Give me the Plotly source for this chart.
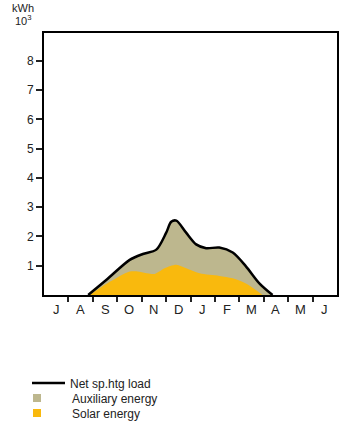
import plotly.graph_objects as go

months = ["J", "A", "S", "O", "N", "D", "J", "F", "M", "A", "M", "J"]
y_ticks = [1, 2, 3, 4, 5, 6, 7, 8]

# month position (0 = start of July), value in kWh x 10^3
load_x = [1.81, 2.56, 3.51, 4.05, 4.6, 5.0, 5.21, 5.42, 5.82, 6.23, 6.64, 7.18, 7.73, 8.27, 8.82, 9.36]
load_y = [0.0, 0.52, 1.2, 1.4, 1.55, 2.12, 2.5, 2.54, 2.13, 1.73, 1.6, 1.62, 1.45, 0.98, 0.4, 0.0]

solar_x = [1.87, 2.6, 3.51, 3.78, 4.53, 4.94, 5.42, 5.82, 6.37, 7.18, 7.73, 8.27, 8.95]
solar_y = [0.0, 0.4, 0.8, 0.81, 0.72, 0.91, 1.03, 0.91, 0.74, 0.65, 0.57, 0.39, 0.0]

AUX = "#bdb78e"
SOLAR = "#f9b90d"
FONT = "Liberation Sans, Arial, sans-serif"
TXT = "#222"

# plot area in pixels
L, T, W, H = 44, 33, 293, 262


def px(x):
    return (x - L) / W


def py(y):
    return (T + H - y) / H


fig = go.Figure()
fig.add_trace(go.Scatter(x=load_x, y=load_y, mode="lines", line=dict(width=0, shape="spline", smoothing=0.8),
                         fill="tozeroy", fillcolor=AUX, showlegend=False, hoverinfo="skip"))
fig.add_trace(go.Scatter(x=solar_x, y=solar_y, mode="lines", line=dict(width=0, shape="spline", smoothing=0.8),
                         fill="tozeroy", fillcolor=SOLAR, showlegend=False, hoverinfo="skip"))
fig.add_trace(go.Scatter(x=load_x, y=load_y, mode="lines", line=dict(color="black", width=2.5, shape="spline", smoothing=0.8),
                         name="Net sp.htg load", legend="legend"))
fig.add_trace(go.Scatter(x=[None], y=[None], mode="markers", marker=dict(symbol="square", size=8, color=AUX),
                         name="Auxiliary energy", legend="legend2"))
fig.add_trace(go.Scatter(x=[None], y=[None], mode="markers", marker=dict(symbol="square", size=8, color=SOLAR),
                         name="Solar energy", legend="legend3"))

for i, m in enumerate(months):
    fig.add_annotation(x=i + 0.5, y=0, xref="x", yref="paper", yanchor="middle", yshift=-14, text=m, showarrow=False,
                       font=dict(family=FONT, size=13, color=TXT))

fig.add_annotation(x=0, y=1, xref="paper", yref="paper", xanchor="right", yanchor="bottom", xshift=-8, yshift=17,
                   text="kWh", showarrow=False, font=dict(family=FONT, size=11, color=TXT))
fig.add_annotation(x=0, y=1, xref="paper", yref="paper", xanchor="right", yanchor="bottom", xshift=-10, yshift=4,
                   text="10<sup>3</sup>", showarrow=False, font=dict(family=FONT, size=11, color=TXT))

leg_common = dict(xanchor="left", yanchor="middle", bgcolor="rgba(0,0,0,0)",
                  font=dict(family=FONT, size=12, color=TXT))

fig.update_layout(
    width=350, height=431,
    margin=dict(l=L, r=350 - L - W, t=T, b=431 - T - H, autoexpand=False),
    paper_bgcolor="white", plot_bgcolor="white",
    font=dict(family=FONT, size=12, color=TXT),
    xaxis=dict(range=[0, 12], tickvals=list(range(1, 12)), showticklabels=False, ticks="outside", ticklen=5,
               tickwidth=1.5, tickcolor=TXT, showgrid=False, zeroline=False, showline=True, linecolor="black",
               linewidth=2, mirror=True, fixedrange=True),
    yaxis=dict(range=[0, 8.95], tickvals=y_ticks, ticktext=[str(v) for v in y_ticks], ticks="outside", ticklen=6,
               tickwidth=1.5, tickcolor=TXT, showgrid=False, zeroline=False, showline=True, linecolor="black",
               linewidth=2, mirror=True, fixedrange=True, tickfont=dict(size=12)),
    legend=dict(x=px(27), y=py(383), itemwidth=33, **leg_common),
    legend2=dict(x=px(2), y=py(398), itemwidth=60, **leg_common),
    legend3=dict(x=px(2), y=py(413), itemwidth=60, **leg_common),
    showlegend=True,
)

fig.write_html("out.html")
